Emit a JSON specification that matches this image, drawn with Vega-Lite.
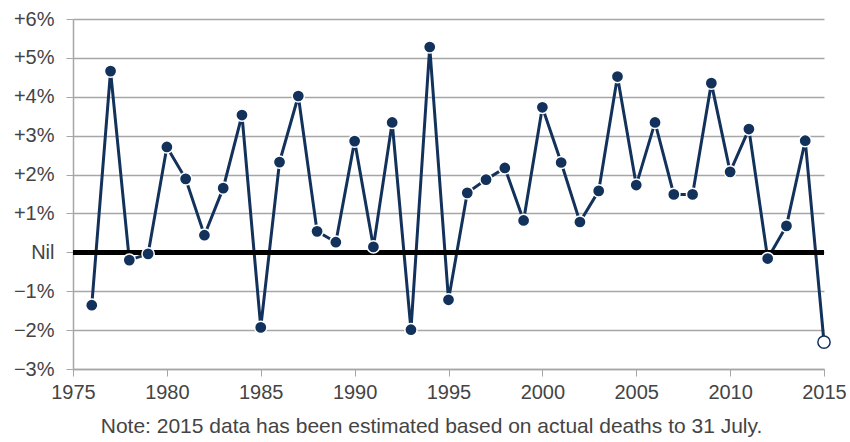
{
  "$schema": "https://vega.github.io/schema/vega-lite/v6.json",
  "width": 751,
  "height": 350,
  "autosize": "none",
  "padding": {"left": 73, "top": 19, "right": 26, "bottom": 73},
  "background": "white",
  "config": {
    "view": {"stroke": null},
    "font": "Liberation Sans"
  },
  "title": {
    "text": "Note: 2015 data has been estimated based on actual deaths to 31 July.",
    "orient": "bottom",
    "anchor": "middle",
    "fontSize": 21,
    "fontWeight": "normal",
    "color": "#444444",
    "font": "Liberation Sans",
    "offset": 14,
    "dx": -17
  },
  "data": {
    "values": [
      {"year": 1976, "change": -1.36, "estimated": "no"},
      {"year": 1977, "change": 4.66, "estimated": "no"},
      {"year": 1978, "change": -0.2, "estimated": "no"},
      {"year": 1979, "change": -0.04, "estimated": "no"},
      {"year": 1980, "change": 2.71, "estimated": "no"},
      {"year": 1981, "change": 1.89, "estimated": "no"},
      {"year": 1982, "change": 0.44, "estimated": "no"},
      {"year": 1983, "change": 1.65, "estimated": "no"},
      {"year": 1984, "change": 3.53, "estimated": "no"},
      {"year": 1985, "change": -1.93, "estimated": "no"},
      {"year": 1986, "change": 2.32, "estimated": "no"},
      {"year": 1987, "change": 4.02, "estimated": "no"},
      {"year": 1988, "change": 0.54, "estimated": "no"},
      {"year": 1989, "change": 0.26, "estimated": "no"},
      {"year": 1990, "change": 2.86, "estimated": "no"},
      {"year": 1991, "change": 0.14, "estimated": "no"},
      {"year": 1992, "change": 3.34, "estimated": "no"},
      {"year": 1993, "change": -1.99, "estimated": "no"},
      {"year": 1994, "change": 5.28, "estimated": "no"},
      {"year": 1995, "change": -1.22, "estimated": "no"},
      {"year": 1996, "change": 1.53, "estimated": "no"},
      {"year": 1997, "change": 1.87, "estimated": "no"},
      {"year": 1998, "change": 2.17, "estimated": "no"},
      {"year": 1999, "change": 0.82, "estimated": "no"},
      {"year": 2000, "change": 3.73, "estimated": "no"},
      {"year": 2001, "change": 2.31, "estimated": "no"},
      {"year": 2002, "change": 0.78, "estimated": "no"},
      {"year": 2003, "change": 1.58, "estimated": "no"},
      {"year": 2004, "change": 4.52, "estimated": "no"},
      {"year": 2005, "change": 1.73, "estimated": "no"},
      {"year": 2006, "change": 3.34, "estimated": "no"},
      {"year": 2007, "change": 1.49, "estimated": "no"},
      {"year": 2008, "change": 1.49, "estimated": "no"},
      {"year": 2009, "change": 4.35, "estimated": "no"},
      {"year": 2010, "change": 2.07, "estimated": "no"},
      {"year": 2011, "change": 3.17, "estimated": "no"},
      {"year": 2012, "change": -0.16, "estimated": "no"},
      {"year": 2013, "change": 0.68, "estimated": "no"},
      {"year": 2014, "change": 2.87, "estimated": "no"},
      {"year": 2015, "change": -2.31, "estimated": "yes"}
    ]
  },
  "encoding": {
    "x": {
      "field": "year",
      "type": "quantitative",
      "scale": {"domain": [1975, 2015], "nice": false, "zero": false},
      "axis": {
        "title": null,
        "values": [1975, 1980, 1985, 1990, 1995, 2000, 2005, 2010, 2015],
        "format": "d",
        "grid": false,
        "labelFontSize": 20,
        "labelColor": "#444444",
        "labelFont": "Liberation Sans",
        "labelPadding": 6,
        "labelFlush": false,
        "tickSize": 7,
        "tickColor": "#a6a6a6",
        "domainColor": "#a6a6a6",
        "domainWidth": 1.5
      }
    },
    "y": {
      "field": "change",
      "type": "quantitative",
      "scale": {"domain": [-3, 6], "nice": false, "zero": false},
      "axis": {
        "title": null,
        "values": [-3, -2, -1, 0, 1, 2, 3, 4, 5, 6],
        "labelExpr": "datum.value == 0 ? 'Nil' : (datum.value > 0 ? '+' + datum.value + '%' : '\u2212' + abs(datum.value) + '%')",
        "grid": true,
        "gridColor": "#a6a6a6",
        "gridWidth": 1.3,
        "labelFontSize": 20,
        "labelColor": "#444444",
        "labelFont": "Liberation Sans",
        "labelPadding": 12,
        "tickSize": 7,
        "tickColor": "#a6a6a6",
        "domainColor": "#a6a6a6",
        "domainWidth": 1.5
      }
    }
  },
  "layer": [
    {
      "mark": {"type": "line", "color": "#13325b", "strokeWidth": 3}
    },
    {
      "mark": {"type": "rule", "color": "#000000", "strokeWidth": 4.5},
      "encoding": {"x": null, "y": {"datum": 0}}
    },
    {
      "mark": {"type": "point", "filled": false, "shape": "circle", "size": 150, "strokeWidth": 1.5, "opacity": 1},
      "encoding": {
        "fill": {
          "field": "estimated",
          "type": "nominal",
          "scale": {"domain": ["no", "yes"], "range": ["#13325b", "#ffffff"]},
          "legend": null
        },
        "stroke": {
          "field": "estimated",
          "type": "nominal",
          "scale": {"domain": ["no", "yes"], "range": ["#ffffff", "#13325b"]},
          "legend": null
        }
      }
    }
  ]
}
